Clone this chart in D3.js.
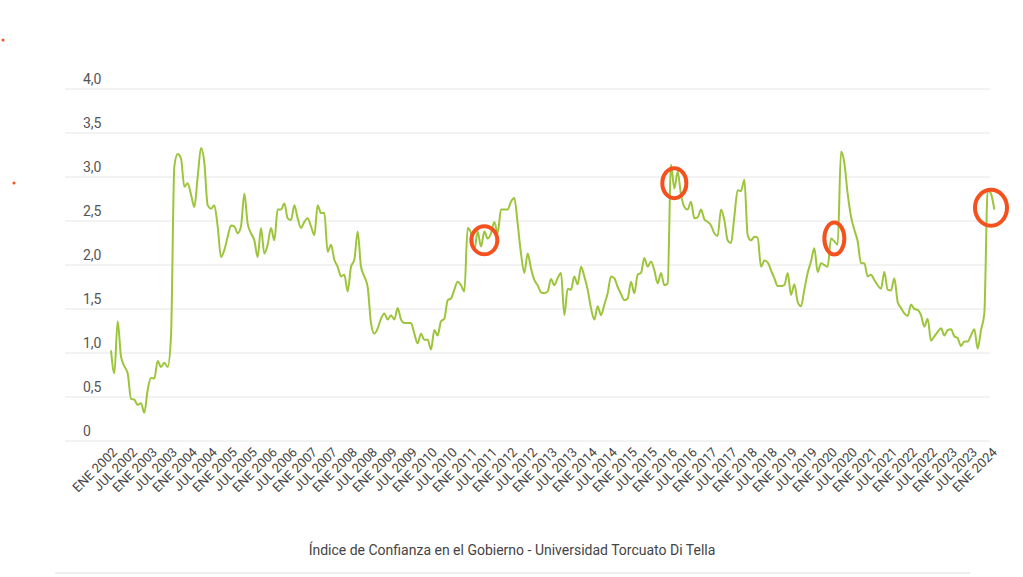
<!DOCTYPE html>
<html><head><meta charset="utf-8">
<script src="https://cdn.jsdelivr.net/npm/d3@7"></script>
<style>body{margin:0;background:#fff;font-family:Roboto,"Noto Sans",sans-serif}</style>
</head><body>
<svg id="c" width="1023" height="577"></svg>
<script>
// monthly index, ENE 2002 .. MAR 2024
const values = [
  1.03,0.77,1.36,0.96,0.85,0.77,0.48,0.47,0.41,0.43,0.32,0.58,
  0.72,0.71,0.91,0.84,0.89,0.84,1.19,3.12,3.26,3.21,2.89,2.93,
  2.80,2.66,3.00,3.33,3.16,2.68,2.64,2.68,2.44,2.09,2.17,2.32,
  2.45,2.44,2.36,2.44,2.81,2.47,2.36,2.28,2.09,2.42,2.13,2.23,
  2.42,2.28,2.63,2.63,2.70,2.53,2.51,2.68,2.53,2.42,2.49,2.53,
  2.44,2.34,2.68,2.59,2.59,2.15,2.23,2.06,1.98,1.87,1.89,1.70,
  1.98,2.06,2.38,1.98,1.87,1.75,1.34,1.22,1.28,1.39,1.45,1.38,
  1.43,1.38,1.51,1.38,1.34,1.34,1.34,1.22,1.11,1.22,1.15,1.15,
  1.04,1.26,1.20,1.36,1.39,1.60,1.62,1.72,1.81,1.77,1.70,2.42,
  2.36,2.17,2.38,2.21,2.38,2.30,2.36,2.49,2.36,2.63,2.63,2.63,
  2.72,2.76,2.47,2.13,1.91,2.13,1.96,1.83,1.77,1.69,1.68,1.70,
  1.84,1.77,1.85,1.91,1.43,1.73,1.72,1.87,1.78,1.98,1.87,1.72,
  1.51,1.38,1.53,1.43,1.55,1.68,1.87,1.85,1.75,1.67,1.60,1.62,
  1.81,1.68,1.89,1.91,2.08,1.98,2.04,1.94,1.79,1.91,1.77,1.79,
  3.14,2.87,3.06,2.80,2.66,2.63,2.72,2.53,2.54,2.63,2.52,2.49,
  2.45,2.36,2.33,2.63,2.51,2.28,2.25,2.55,2.85,2.84,2.97,2.34,
  2.28,2.32,2.31,1.98,2.05,2.03,1.94,1.85,1.76,1.76,1.77,1.91,
  1.66,1.78,1.58,1.53,1.72,1.91,2.04,2.19,1.92,2.02,2.00,1.98,
  2.30,2.27,2.23,3.29,3.16,2.81,2.55,2.40,2.27,2.02,2.02,1.87,
  1.89,1.83,1.77,1.73,1.92,1.72,1.71,1.85,1.58,1.51,1.45,1.42,
  1.55,1.50,1.49,1.43,1.30,1.39,1.14,1.19,1.24,1.28,1.20,1.26,
  1.27,1.19,1.17,1.08,1.13,1.13,1.20,1.27,1.05,1.26,1.45,2.85,
  2.81,2.63
];
const yTicks = [0, 0.5, 1, 1.5, 2, 2.5, 3, 3.5, 4];
const startYear = 2002, endYear = 2024;
// hand-drawn circles: month index and value at their centres
const markMonth = [112, 169, 217, 264];
const markValue = [2.28, 2.93, 2.30, 2.65];
const markRx = [13, 12, 10, 16];
const markRy = [14, 15, 16, 18];

const svg = d3.select('#c');
const x = d3.scaleLinear().domain([0, 264]).range([111, 991]);
const y = d3.scaleLinear().domain([0, 4]).range([441, 89]);

yTicks.forEach(t => {
  svg.append('line').attr('x1', 65).attr('x2', 990).attr('y1', y(t)).attr('y2', y(t))
    .attr('stroke', '#e6e6e6').attr('stroke-width', 1);
  svg.append('text').attr('x', 83).attr('y', y(t) - 5)
    .attr('font-size', 14).attr('fill', '#555')
    .text(t === 0 ? '0' : d3.format('.1f')(t).replace('.', ','));
});

const xLabels = [];
for (let yr = startYear; yr <= endYear; yr++) {
  xLabels.push({m: (yr - startYear) * 12, t: 'ENE ' + yr});
  if (yr < endYear) xLabels.push({m: (yr - startYear) * 12 + 6, t: 'JUL ' + yr});
}
xLabels.forEach(d => {
  svg.append('text')
    .attr('transform', `translate(${x(d.m) + 7},${453}) rotate(-45)`)
    .attr('text-anchor', 'end').attr('font-size', 13).attr('fill', '#444')
    .text(d.t);
});

svg.append('path').datum(values)
  .attr('fill', 'none').attr('stroke', '#9dc53c').attr('stroke-width', 2)
  .attr('stroke-linejoin', 'round')
  .attr('d', d3.line().x((d, i) => x(i)).y(d => y(d)).curve(d3.curveMonotoneX));

markMonth.forEach((m, i) => {
  svg.append('ellipse').attr('cx', x(m)).attr('cy', y(markValue[i]))
    .attr('rx', markRx[i]).attr('ry', markRy[i])
    .attr('fill', 'none').attr('stroke', '#f4511e').attr('stroke-width', 4);
});
svg.append('circle').attr('cx', 3).attr('cy', 40).attr('r', 1.5).attr('fill', '#f4511e');
svg.append('circle').attr('cx', 14).attr('cy', 183).attr('r', 1.5).attr('fill', '#f4511e');

svg.append('text').attr('x', 512).attr('y', 555).attr('text-anchor', 'middle')
  .attr('font-size', 14).attr('fill', '#444')
  .text('Índice de Confianza en el Gobierno - Universidad Torcuato Di Tella');
svg.append('line').attr('x1', 55).attr('x2', 970).attr('y1', 573).attr('y2', 573)
  .attr('stroke', '#ddd');
</script>
</body></html>
